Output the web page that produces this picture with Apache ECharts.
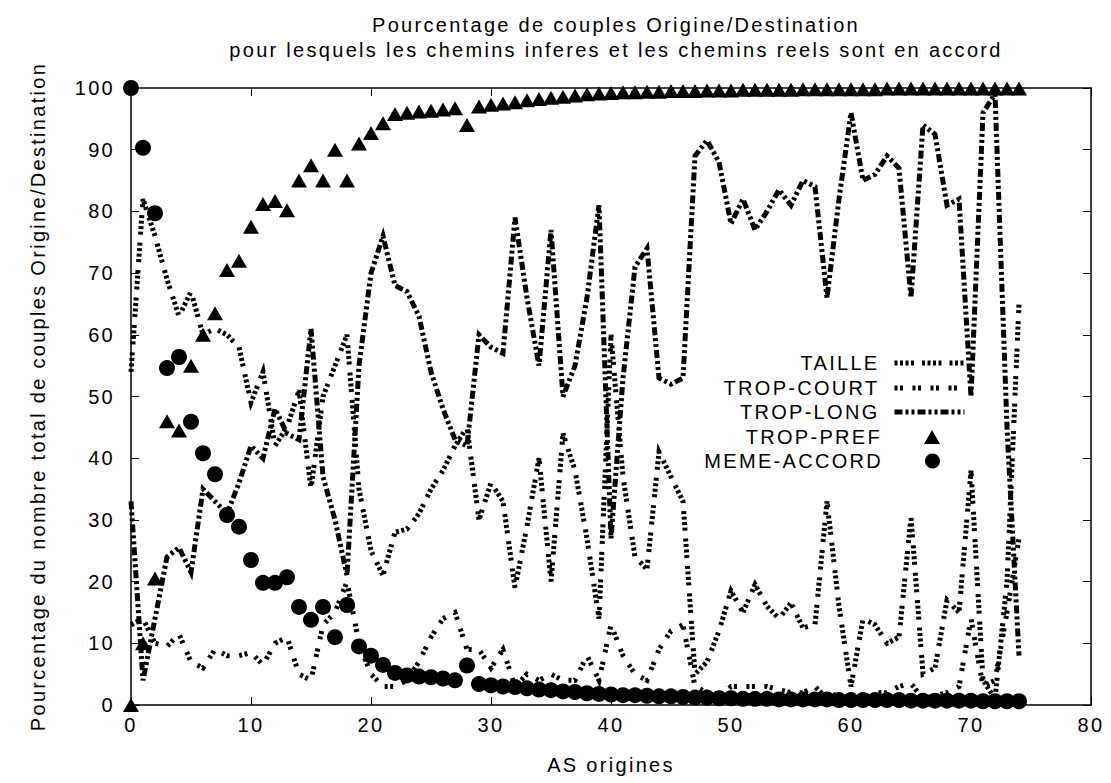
<!DOCTYPE html>
<html>
<head>
<meta charset="utf-8">
<script src="https://cdn.jsdelivr.net/npm/echarts@6/dist/echarts.min.js"></script>
<style>
html,body{margin:0;padding:0;background:#fff;}
#chart{width:1111px;height:783px;}
#chart svg text{letter-spacing:2.3px;}
</style>
</head>
<body>
<div id="chart"></div>
<script>
const asOrigines = [0,1,2,3,4,5,6,7,8,9,10,11,12,13,14,15,16,17,18,19,20,21,22,23,24,25,26,27,28,29,30,31,32,33,34,35,36,37,38,39,40,41,42,43,44,45,46,47,48,49,50,51,52,53,54,55,56,57,58,59,60,61,62,63,64,65,66,67,68,69,70,71,72,73,74];

const taille = [54,82,76,69,63,67,60,61,60,58,49,54,42,45,51,35,50,55,60,35,25,21,28,28.5,31,35,38,42,45,30,36,33,19,29,40,20,44,38,27,14,60,37,24,22,41,37,33,5,7,12,18.5,15,19.5,16,14,16.5,12.5,13,33,16,3,14,13,10,11,30.5,5,6,17,15,38,4,1,20,65];

const tropCourt = [13,14,10,9.5,11.5,7,6,9,8,8,8.5,6.5,10,11,5,4,13,15,20,10,5,3,3,4,7,11,14,15,9,9,6,9,3,5,4,5,4,4,8,4,13,8,5,4,9,12,13,3,2,1,3,3,3,3,2.5,2,2,3,1,2,1,1,2,2,3,3.5,1,1.5,2,3,14,3,4,15,27];

const tropLong = [33,4,14,24,25.5,21.5,35,33,31,36,42,40,48,44,43,61,37,30,21,55,70,76,68,67,63,54,48,43,42,60,58,57,79,66,55,77,50,55,66,81,27,53,71,74,53,52,53,89,91.5,88,78,82,77,80,83.5,81,85,84,66,82,96,85,86,89,87,66,94,92.5,81,82,50,96,99,45,8];

const tropPref = [0,10,20.5,46,44.5,55,60,63.5,70.5,72,77.5,81.2,81.7,80.2,85,87.5,85,90,85,91,92.7,94.3,95.8,96,96.2,96.3,96.5,96.7,94,97,97.3,97.5,97.7,98,98.2,98.4,98.6,98.8,99,99.1,99.2,99.3,99.3,99.4,99.4,99.5,99.5,99.5,99.6,99.6,99.6,99.7,99.7,99.7,99.7,99.7,99.8,99.8,99.8,99.8,99.8,99.8,99.8,99.9,99.9,99.9,99.9,99.9,99.9,99.9,99.9,99.9,99.9,99.9,99.9];

const memeAccord = [100,90.3,79.7,54.6,56.4,45.9,40.8,37.4,30.8,28.9,23.5,19.8,19.8,20.7,15.9,13.8,15.9,11,16.2,9.5,8,6.5,5.2,4.8,4.6,4.5,4.3,4.0,6.4,3.4,3.2,3.0,2.9,2.7,2.5,2.4,2.2,2.1,1.9,1.8,1.7,1.6,1.6,1.5,1.4,1.4,1.3,1.2,1.2,1.1,1.1,1.0,1.0,1.0,0.9,0.9,0.9,0.9,0.9,0.8,0.8,0.8,0.8,0.8,0.8,0.7,0.7,0.7,0.7,0.7,0.7,0.6,0.6,0.6,0.6];

const seriesNames = ['TAILLE','TROP-COURT','TROP-LONG','TROP-PREF','MEME-ACCORD'];
const xTicks = [0,10,20,30,40,50,60,70,80];
const yTicks = [0,10,20,30,40,50,60,70,80,90,100];

function pairs(vals){ return asOrigines.map((x,i)=>[x, vals[i]]); }

const FONT = 'Liberation Sans';
const FS = 20;
const LW = 5;

const chart = echarts.init(document.getElementById('chart'), null, {renderer:'svg'});

const axisCommon = {
  axisLine:{show:true,onZero:false,lineStyle:{color:'#000',width:1.5}},
  axisTick:{show:true,inside:true,length:8,lineStyle:{color:'#000',width:1}},
  splitLine:{show:false}
};

const legendRows = [364,389,413,438,462];
const legendIcon = [
  {w:70,h:14,right:144,pad:10,line:true},
  {w:70,h:14,right:144,pad:10,line:true},
  {w:70,h:14,right:144,pad:10,line:true},
  {w:16,h:14,right:171,pad:37,line:false},
  {w:15,h:15,right:171,pad:37,line:false}
];
const legends = seriesNames.map((n,i)=>{
  const c = legendIcon[i];
  const lg = {
    data:[n],
    orient:'vertical',
    right:c.right,
    top:legendRows[i]-11,
    align:'right',
    padding:0,
    itemWidth:c.w,
    itemHeight:c.h,
    itemGap:0,
    selectedMode:false,
    textStyle:{fontFamily:FONT,fontSize:FS,color:'#000',padding:[0,c.pad,0,0]}
  };
  if (c.line) {
    lg.itemStyle = {color:'rgba(0,0,0,0)',borderWidth:0,opacity:0};
    lg.lineStyle = {width:LW};
  }
  return lg;
});

const lineSeries = (name, vals, dash) => ({
  name, type:'line', data:pairs(vals),
  symbol:'none', showSymbol:false,
  lineStyle:{color:'#000',width:LW,type:dash,cap:'butt',join:'miter'},
  itemStyle:{color:'#000'},
  animation:false, silent:true
});

chart.setOption({
  backgroundColor:'#fff',
  animation:false,
  title:{
    text:'Pourcentage de couples Origine/Destination\npour lesquels les chemins inferes et les chemins reels sont en accord',
    left:611, textAlign:'center', top:7,
    textStyle:{fontFamily:FONT,fontSize:FS,fontWeight:'normal',color:'#000',lineHeight:25}
  },
  legend:legends,
  grid:{left:131,right:20,top:88,bottom:78,containLabel:false},
  xAxis:[
    Object.assign({type:'value',position:'bottom',min:xTicks[0],max:xTicks[xTicks.length-1],interval:10,
      name:'AS origines',nameLocation:'middle',nameGap:50,
      nameTextStyle:{fontFamily:FONT,fontSize:FS,color:'#000'},
      axisLabel:{fontFamily:FONT,fontSize:FS,color:'#000',margin:10}},axisCommon),
    Object.assign({type:'value',position:'top',min:xTicks[0],max:xTicks[xTicks.length-1],interval:10,
      axisLabel:{show:false}},axisCommon)
  ],
  yAxis:[
    Object.assign({type:'value',position:'left',min:yTicks[0],max:yTicks[yTicks.length-1],interval:10,
      name:'Pourcentage du nombre total de couples Origine/Destination',nameLocation:'middle',nameGap:83,nameRotate:90,
      nameTextStyle:{fontFamily:FONT,fontSize:FS,color:'#000'},
      axisLabel:{fontFamily:FONT,fontSize:FS,color:'#000',margin:16}},axisCommon),
    Object.assign({type:'value',position:'right',min:yTicks[0],max:yTicks[yTicks.length-1],interval:10,
      axisLabel:{show:false}},axisCommon)
  ],
  series:[
    lineSeries(seriesNames[0], taille, [3,2.5,3,2.5,3,2.5,3,8]),
    lineSeries(seriesNames[1], tropCourt, [3,2.5,3,9.5]),
    lineSeries(seriesNames[2], tropLong, [8,3,3,3,3,3]),
    {name:seriesNames[3],type:'scatter',data:pairs(tropPref),symbol:'triangle',symbolSize:[16,14],
      itemStyle:{color:'#000',opacity:1},animation:false,silent:true},
    {name:seriesNames[4],type:'scatter',data:pairs(memeAccord),symbol:'circle',symbolSize:16,
      itemStyle:{color:'#000',opacity:1},animation:false,silent:true}
  ]
});
</script>
</body>
</html>
